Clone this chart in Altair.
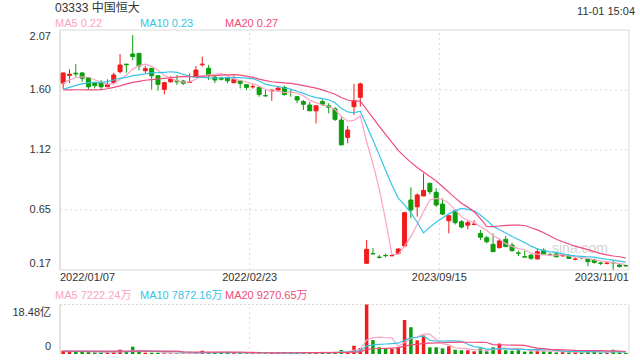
import altair as alt
import numpy as np
import pandas as pd

# ---------------- data ----------------
opens = [1.65,1.71,1.728,1.73,1.693,1.653,1.653,1.62,1.653,1.74,
 1.80,1.88,1.885,1.748,1.767,1.708,1.60,1.66,1.668,1.666,
 1.655,1.70,1.795,1.767,1.696,1.688,1.693,1.653,1.668,1.637,
 1.62,1.616,1.55,1.588,1.595,1.616,1.578,1.542,1.503,1.476,
 1.43,1.503,1.47,1.445,1.357,1.22,1.463,1.537,0.223,0.30,
 0.272,0.285,0.282,0.302,0.36,0.724,0.67,0.756,0.856,0.785,
 0.692,0.56,0.64,0.552,0.525,0.53,0.46,0.425,0.373,0.347,
 0.413,0.367,0.305,0.275,0.287,0.257,0.327,0.292,0.297,0.282,
 0.28,0.255,0.27,0.257,0.25,0.225,0.222,0.228,0.21,0.205]
closes = [1.73,1.72,1.722,1.688,1.62,1.63,1.62,1.64,1.714,1.793,
 1.795,1.86,1.785,1.764,1.708,1.64,1.653,1.682,1.66,1.648,
 1.657,1.753,1.80,1.714,1.674,1.68,1.668,1.68,1.648,1.616,
 1.622,1.56,1.548,1.595,1.61,1.56,1.575,1.516,1.482,1.43,
 1.47,1.482,1.458,1.363,1.16,1.278,1.51,1.643,0.334,0.297,
 0.27,0.283,0.285,0.336,0.624,0.645,0.764,0.80,0.79,0.685,
 0.613,0.60,0.545,0.51,0.545,0.534,0.43,0.394,0.315,0.40,
 0.355,0.323,0.302,0.272,0.263,0.315,0.297,0.29,0.275,0.285,
 0.262,0.257,0.267,0.236,0.23,0.223,0.225,0.226,0.197,0.203]
highs = [1.73,1.76,1.80,1.735,1.70,1.66,1.674,1.68,1.732,1.88,
 1.80,2.03,1.885,1.785,1.767,1.71,1.66,1.705,1.714,1.675,
 1.726,1.785,1.859,1.793,1.714,1.70,1.70,1.706,1.67,1.64,
 1.64,1.62,1.595,1.595,1.62,1.63,1.595,1.548,1.516,1.50,
 1.47,1.52,1.49,1.46,1.384,1.31,1.643,1.653,0.407,0.342,
 0.29,0.30,0.29,0.342,0.63,0.825,0.777,0.935,0.86,0.817,
 0.737,0.60,0.65,0.565,0.565,0.565,0.487,0.44,0.46,0.42,
 0.44,0.385,0.323,0.323,0.297,0.342,0.342,0.305,0.305,0.297,
 0.297,0.27,0.28,0.262,0.26,0.235,0.235,0.25,0.215,0.208]
lows = [1.603,1.65,1.70,1.66,1.60,1.608,1.595,1.62,1.64,1.727,
 1.732,1.83,1.75,1.727,1.60,1.59,1.56,1.653,1.635,1.635,
 1.653,1.70,1.78,1.674,1.65,1.67,1.648,1.648,1.608,1.595,
 1.605,1.542,1.545,1.51,1.58,1.55,1.542,1.49,1.437,1.43,
 1.33,1.47,1.41,1.35,1.16,1.173,1.397,1.463,0.223,0.297,
 0.26,0.27,0.28,0.297,0.35,0.579,0.592,0.756,0.77,0.67,
 0.605,0.46,0.53,0.50,0.492,0.525,0.407,0.38,0.315,0.34,
 0.355,0.315,0.28,0.272,0.25,0.257,0.297,0.282,0.27,0.275,
 0.257,0.245,0.255,0.20,0.22,0.21,0.215,0.172,0.19,0.195]
# volume in 亿 shares
volumes = [1.24,1.0,0.75,0.87,0.75,0.62,0.62,0.62,0.75,1.62,
 0.75,2.74,0.87,0.5,0.5,0.5,0.3,0.3,0.3,0.3,
 0.3,0.4,1.24,0.5,0.5,0.5,0.5,0.4,0.4,0.4,
 0.4,0.5,0.5,0.5,0.4,0.5,0.4,0.5,0.6,0.6,
 0.7,0.5,0.6,0.8,1.5,1.0,3.1,2.24,18.48,5.2,
 2.5,1.9,1.9,2.5,12.7,10.0,5.1,6.9,2.5,2.5,
 2.1,2.9,1.6,1.4,1.4,1.0,2.1,1.0,2.5,3.9,
 1.4,1.2,1.4,0.9,1.0,1.6,1.0,0.9,0.6,0.67,
 0.6,0.8,0.66,1.2,1.0,0.5,0.5,1.6,0.6,0.41]

# moving-average values before the window is full
ma5_lead = [1.648, 1.674, 1.692, 1.700]
ma10_lead = [1.600, 1.616, 1.632, 1.643, 1.653, 1.656, 1.656, 1.661, 1.674]
ma20_lead = [1.595, 1.596, 1.597, 1.597, 1.596, 1.596, 1.597, 1.605, 1.616, 1.628,
             1.643, 1.656, 1.664, 1.672, 1.677, 1.682, 1.687, 1.692, 1.697]
vma5_lead = [1.0, 1.0, 0.95, 0.95]
vma10_lead = [1.0, 1.0, 1.0, 0.95, 0.95, 0.95, 0.9, 0.9, 0.9]
vma20_lead = [1.1] * 19

tick_idx = [0, 30, 60, 89]
tick_labels = ["2022/01/07", "2022/02/23", "2023/09/15", "2023/11/01"]
price_ticks = [2.07, 1.595, 1.12, 0.645, 0.17]
price_tick_labels = ["2.07", "1.60", "1.12", "0.65", "0.17"]
vol_max = 18.48
vol_tick_labels = ["18.48亿", "0"]

title_text = "03333 中国恒大"
time_text = "11-01 15:04"
ma_legend = ["MA5 0.22", "MA10 0.23", "MA20 0.27"]
vma_legend = ["MA5 7222.24万", "MA10 7872.16万", "MA20 9270.65万"]

# ---------------- styling ----------------
RED = "#f21c1c"
GREEN = "#0c9e0c"
C5 = "#fca3c3"
C10 = "#36c4e6"
C20 = "#ef4b7c"
TXT = "#333333"
GRID = "#d9d9d9"
FONT = "Liberation Sans, Arial, Noto Sans CJK SC"

N = len(closes)
W, H = 579, 324


def ma(vals, n, lead):
    s = pd.Series(vals, dtype=float).rolling(n).mean().to_numpy()
    s[: n - 1] = lead
    return s


df = pd.DataFrame({
    "idx": np.arange(N),
    "open": opens, "close": closes, "high": highs, "low": lows, "vol": volumes,
})
df["dir"] = np.where(df["close"] >= df["open"], "up", "down")
df["ma5"] = ma(closes, 5, ma5_lead)
df["ma10"] = ma(closes, 10, ma10_lead)
df["ma20"] = ma(closes, 20, ma20_lead)
df["vma5"] = ma(volumes, 5, vma5_lead)
df["vma10"] = ma(volumes, 10, vma10_lead)
df["vma20"] = ma(volumes, 20, vma20_lead)

XS = alt.Scale(domain=[-0.5, N - 0.5], nice=False, zero=False)
X = alt.X("idx:Q", scale=XS, axis=None)
PY = alt.Scale(domain=[0.17, 2.07], range=[240, 0], nice=False, zero=False)
VY = alt.Scale(domain=[0, vol_max], range=[324, 274.5], nice=False, zero=False)
COL = alt.Color("dir:N", scale=alt.Scale(domain=["up", "down"], range=[RED, GREEN]), legend=None)

base = alt.Chart(df)

# ---------- frames & grid ----------
lo, hi = price_ticks[-1], price_ticks[0]
frame_h = pd.DataFrame({"y": [hi, lo], "x1": [-0.5, -0.5], "x2": [N - 0.5, N - 0.5]})
price_frame_h = alt.Chart(frame_h).mark_rule(color=GRID, strokeWidth=1).encode(
    x=alt.X("x1:Q", scale=XS, axis=None), x2="x2:Q", y=alt.Y("y:Q", scale=PY, axis=None))
frame_v = pd.DataFrame({"x": [-0.5, N - 0.5], "y1": [lo, lo], "y2": [hi, hi], "c": ["#c8c8c8", GRID]})
price_frame_v = alt.Chart(frame_v).mark_rule(strokeWidth=1).encode(
    x=alt.X("x:Q", scale=XS, axis=None),
    y=alt.Y("y1:Q", scale=PY, axis=None), y2="y2:Q", color=alt.Color("c:N", scale=None))
grid_df = pd.DataFrame({"y": price_ticks[1:-1], "x1": [-0.5] * 3, "x2": [N - 0.5] * 3})
price_grid = alt.Chart(grid_df).mark_rule(color=GRID, strokeDash=[2, 3], strokeWidth=1).encode(
    x=alt.X("x1:Q", scale=XS, axis=None), x2="x2:Q", y=alt.Y("y:Q", scale=PY, axis=None))
vline_df = pd.DataFrame({"x": [t - 0.5 for t in tick_idx[1:3]], "y1": [lo, lo], "y2": [hi, hi],
                         "v1": [0, 0], "v2": [vol_max, vol_max]})
price_vgrid = alt.Chart(vline_df).mark_rule(color=GRID, strokeDash=[2, 3], strokeWidth=1).encode(
    x=alt.X("x:Q", scale=XS, axis=None), y=alt.Y("y1:Q", scale=PY, axis=None), y2="y2:Q")
vol_vgrid = alt.Chart(vline_df).mark_rule(color=GRID, strokeDash=[2, 3], strokeWidth=1).encode(
    x=alt.X("x:Q", scale=XS, axis=None), y=alt.Y("v1:Q", scale=VY, axis=None), y2="v2:Q")
vol_top = alt.Chart(pd.DataFrame({"y": [vol_max], "x1": [-0.5], "x2": [N - 0.5]})).mark_rule(
    color=GRID, strokeDash=[2, 2], strokeWidth=1).encode(
    x=alt.X("x1:Q", scale=XS, axis=None), x2="x2:Q", y=alt.Y("y:Q", scale=VY, axis=None))
vol_sides = alt.Chart(pd.DataFrame({"x": [-0.5, N - 0.5], "y1": [0, 0], "y2": [vol_max, vol_max],
                                    "c": ["#c8c8c8", GRID]})).mark_rule(strokeWidth=1).encode(
    x=alt.X("x:Q", scale=XS, axis=None),
    y=alt.Y("y1:Q", scale=VY, axis=None), y2="y2:Q", color=alt.Color("c:N", scale=None))

# ---------- candles ----------
wicks = base.mark_rule(strokeWidth=1).encode(
    x=X, y=alt.Y("low:Q", scale=PY, axis=None), y2="high:Q", color=COL)
bodies = base.mark_bar(width=4, strokeWidth=1).encode(
    x=X, y=alt.Y("open:Q", scale=PY, axis=None), y2="close:Q", color=COL, stroke=COL)


def line(field, color, scale):
    return base.mark_line(strokeWidth=1.2, color=color).encode(
        x=X, y=alt.Y(f"{field}:Q", scale=scale, axis=None))


ma_lines = [line("ma5", C5, PY), line("ma10", C10, PY), line("ma20", C20, PY)]

# ---------- volume ----------
vbars = base.mark_bar(width=3.5).encode(
    x=X, y=alt.Y("vol:Q", scale=VY, axis=None), y2=alt.datum(0), color=COL)
vma_lines = [line("vma5", C5, VY), line("vma10", C10, VY), line("vma20", C20, VY)]


# ---------- texts ----------
def txt(text, x, y, color=TXT, size=11, align="left", baseline="middle"):
    return alt.Chart(pd.DataFrame({"t": [text]})).mark_text(
        align=align, baseline=baseline, fontSize=size, color=color, font=FONT).encode(
        x=alt.value(x), y=alt.value(y), text="t:N")


def ytick(vals, labels, scale, baseline, dy):
    d = pd.DataFrame({"v": vals, "t": labels})
    return alt.Chart(d).mark_text(align="right", baseline=baseline, dy=dy, fontSize=11,
                                  color=TXT, font=FONT).encode(
        x=alt.value(-4), y=alt.Y("v:Q", scale=scale, axis=None), text="t:N")


price_labels = [
    ytick(price_ticks[:1], price_tick_labels[:1], PY, "top", 1),
    ytick(price_ticks[1:-1], price_tick_labels[1:-1], PY, "middle", 0),
    ytick(price_ticks[-1:], price_tick_labels[-1:], PY, "bottom", -1),
]
vol_labels = [
    ytick([vol_max], vol_tick_labels[:1], VY, "top", 2),
    ytick([0], vol_tick_labels[1:], VY, "bottom", -2),
]

xpos = [tick_idx[0] - 0.5, tick_idx[1] - 0.5, tick_idx[2] - 0.5, tick_idx[3] + 0.5]
aligns = ["left", "center", "center", "right"]
xlabels = []
for p, t, a in zip(xpos, tick_labels, aligns):
    xlabels.append(alt.Chart(pd.DataFrame({"x": [p], "t": [t]})).mark_text(
        align=a, baseline="middle", fontSize=11, color=TXT, font=FONT).encode(
        x=alt.X("x:Q", scale=XS, axis=None), y=alt.value(248), text="t:N"))

header = [
    txt(title_text, 0, -22.5, size=12),
    txt(time_text, W + 1, -18.5, align="right"),
    txt(ma_legend[0], 0, -6.5, color=C5),
    txt(ma_legend[1], 85, -6.5, color=C10),
    txt(ma_legend[2], 170, -6.5, color=C20),
    txt(vma_legend[0], 0, 265.5, color=C5),
    txt(vma_legend[1], 85, 265.5, color=C10),
    txt(vma_legend[2], 170, 265.5, color=C20),
]
watermark = txt("sina.com", 525, 219, color="#d4d4d4", size=14, align="center")

layers = ([price_grid, price_vgrid, price_frame_h, price_frame_v, vol_vgrid, vol_top, vol_sides,
           watermark, wicks, bodies] + ma_lines + [vbars] + vma_lines
          + price_labels + vol_labels + xlabels + header)

chart = alt.layer(*layers).resolve_scale(y="independent", color="independent").properties(
    width=W, height=H,
    autosize=alt.AutoSizeParams(type="none"),
    padding={"left": 55, "top": 30, "right": 6, "bottom": 6},
    background="white",
).configure_view(strokeWidth=0)

chart.save("out.html", embed_options={"renderer": "svg", "actions": False})
